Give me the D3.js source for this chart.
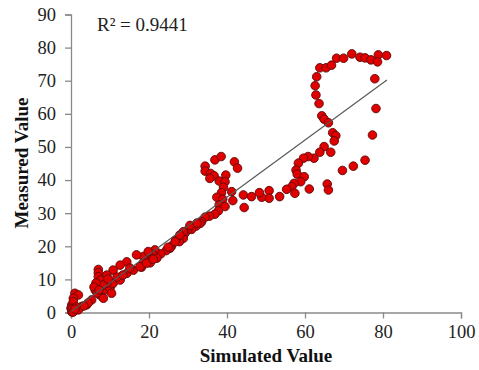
<!DOCTYPE html>
<html><head><meta charset="utf-8">
<script src="https://cdn.jsdelivr.net/npm/d3@7"></script>
<style>body{margin:0;background:#fff;}svg{display:block;}</style>
</head><body>
<svg id="c" width="479" height="370"></svg>
<script>
const xTicks = [0, 20, 40, 60, 80, 100];
const yTicks = [0, 10, 20, 30, 40, 50, 60, 70, 80, 90];
const xTitle = "Simulated Value";
const yTitle = "Measured Value";
const r2Label = "R² = 0.9441";
const trendSlope = 0.863;
const trendIntercept = 0.3;
const trendRange = [0, 81];

const simulated = [
 63.8,65.4,66.8,68.1,69.9,72.0,74.1,75.4,76.9,78.8,78.6,80.9,
 63.0,62.6,62.8,63.6,64.3,64.9,66.0,67.1,67.9,67.5,
 77.9,78.2,77.3,75.4,72.4,69.6,
 64.9,63.8,66.6,62.3,60.8,59.6,58.3,57.7,58.0,59.8,58.9,57.2,56.6,55.3,57.4,61.1,65.7,66.0,
 53.5,50.8,50.8,48.9,48.3,46.3,44.2,44.4,
 34.4,34.4,36.9,38.5,41.9,42.7,35.8,36.7,35.6,38.0,39.7,39.5,39.1,38.6,37.4,41.2,38.9,38.0,39.5,41.5,37.8,36.9,35.5,34.4,
 33.5,33.1,32.1,30.9,29.9,29.2,28.4,28.8,27.8,26.9,25.8,25.4,24.4,23.0,21.5,21.1,20.1,19.2,18.5,22.0,20.3,18.5,18.1,
 30.5,32.3,28.8,26.7,24.9,27.9,
 16.8,19.8,14.3,12.6,10.8,9.2,7.0,7.0,7.0,7.3,6.7,6.2,7.4,8.7,10.0,10.8,12.6,14.3,16.0,17.7,19.4,21.1,9.2,10.4,8.3,5.3,4.0,2.7,1.9,0.8,0.2,1.0,1.9,0.6,0.2,0.6,0.0,
 7.7,8.2,6.4,5.9,11.8,13.3,15.1,9.5,4.4,3.3,1.3,0.3,0.5,1.0,6.7,7.2
];
const measured = [
 73.9,73.9,74.7,76.8,76.8,78.1,77.1,76.9,76.3,77.8,75.7,77.6,
 71.2,68.5,65.7,63.1,59.4,58.4,57.3,54.3,53.4,51.8,
 70.6,61.6,53.6,46.0,44.2,42.9,
 50.1,48.4,48.4,46.6,47.1,46.6,45.1,43.0,41.8,41.0,39.5,39.0,38.0,37.2,36.0,37.3,38.8,37.0,
 35.0,36.8,34.5,34.8,36.2,35.0,35.5,31.7,
 44.2,42.7,46.1,47.1,45.5,43.6,42.0,41.3,40.5,39.7,41.5,39.5,37.8,36.2,34.8,36.5,34.2,32.5,32.0,33.8,30.7,29.7,29.1,28.8,
 27.4,26.9,26.1,25.1,24.9,23.9,22.9,22.4,21.4,21.9,20.1,19.4,18.7,17.7,18.9,17.4,16.7,16.1,16.9,16.4,15.0,14.9,13.7,
 26.3,27.0,24.4,21.4,19.7,23.4,
 17.4,18.4,15.3,14.3,12.8,11.3,13.0,12.0,10.8,9.3,7.8,6.8,5.3,6.8,7.3,8.8,9.8,11.8,12.8,13.8,14.9,16.1,8.8,5.8,4.3,3.8,2.3,1.8,0.8,0.8,0.2,5.8,5.3,4.3,2.3,3.3,1.3,
 9.8,8.3,8.9,7.7,10.7,11.3,13.4,10.1,2.9,2.0,1.7,1.0,0.1,1.0,5.9,6.8
];

const svg = d3.select("#c");
const x = d3.scaleLinear().domain([0, 100]).range([71, 461]);
const y = d3.scaleLinear().domain([0, 90]).range([312.5, 14.5]);
const font = "'Liberation Serif','Times New Roman',serif";
const axisColor = "#8a8a8a";

const xAxis = svg.append("g").attr("transform", `translate(0,${y(0)})`)
  .call(d3.axisBottom(x).tickValues(xTicks).tickSize(6).tickPadding(6));
const yAxis = svg.append("g").attr("transform", `translate(${x(0)},0)`)
  .call(d3.axisLeft(y).tickValues(yTicks).tickSize(6).tickPadding(9));
[xAxis, yAxis].forEach(g => {
  g.selectAll("path,line").attr("stroke", axisColor).attr("stroke-width", 1.3);
  g.selectAll("text").attr("font-family", font).attr("font-size", 18.5).attr("fill", "#222");
});

const pts = simulated.map((s, i) => ({s, m: measured[i]}));
svg.append("g").selectAll("circle").data(pts).join("circle")
  .attr("cx", d => x(d.s)).attr("cy", d => y(d.m)).attr("r", 4.3)
  .attr("fill", "#e00000").attr("stroke", "#5a0a0a").attr("stroke-width", 0.9);

svg.append("line")
  .attr("x1", x(trendRange[0])).attr("y1", y(trendSlope * trendRange[0] + trendIntercept))
  .attr("x2", x(trendRange[1])).attr("y2", y(trendSlope * trendRange[1] + trendIntercept))
  .attr("stroke", "#555").attr("stroke-width", 1.1);

svg.append("text").attr("x", 97).attr("y", 31).attr("font-family", font)
  .attr("font-size", 19).attr("fill", "#222").text(r2Label);

svg.append("text").attr("x", 266).attr("y", 362).attr("text-anchor", "middle")
  .attr("font-family", font).attr("font-size", 19).attr("font-weight", "bold").attr("fill", "#111").text(xTitle);
svg.append("text").attr("transform", "translate(28,163) rotate(-90)").attr("text-anchor", "middle")
  .attr("font-family", font).attr("font-size", 19).attr("font-weight", "bold").attr("fill", "#111").text(yTitle);
</script>
</body></html>
